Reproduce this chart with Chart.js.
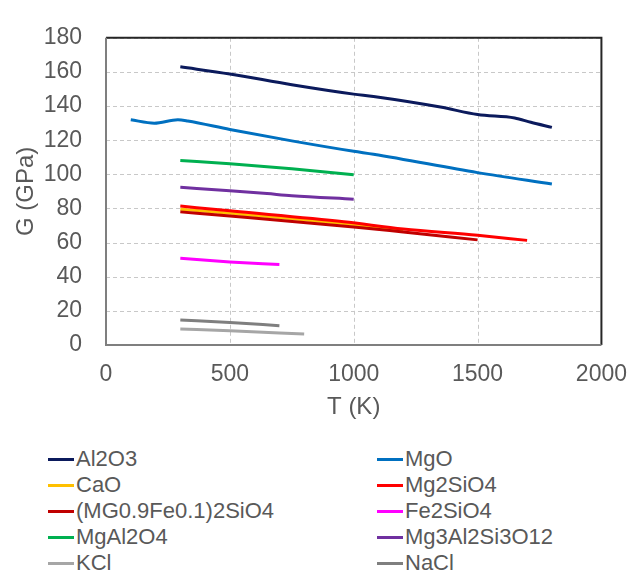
<!DOCTYPE html>
<html>
<head>
<meta charset="utf-8">
<script src="https://cdn.jsdelivr.net/npm/chart.js@4"></script>
<style>
    body { margin: 0; background: #fff; font-family: 'Liberation Sans', Arial, sans-serif; }
    #wrap { position: relative; width: 643px; height: 430px; }
    #legend { position: relative; width: 643px; height: 144px; }
    .item { position: absolute; display: flex; align-items: center; font-size: 22px; color: #595959; line-height: 26px; }
    .swatch { width: 26px; height: 3px; margin-right: 2px; }
</style>
</head>
<body>
<div id="wrap"><canvas id="lineChart"></canvas></div>
<div id="legend"></div>
<script>
// ===== DATA =====
const names = ['Al2O3', 'MgO', 'CaO', 'Mg2SiO4', '(MG0.9Fe0.1)2SiO4', 'Fe2SiO4', 'MgAl2O4', 'Mg3Al2Si3O12', 'KCl', 'NaCl'];
const colors = ['#0b1a5c', '#0070c0', '#ffc000', '#ff0000', '#c00000', '#ff00ff', '#00b050', '#7030a0', '#a6a6a6', '#7f7f7f'];

const al2o3T = [300, 500, 750, 1000, 1080, 1350, 1500, 1650, 1715, 1800];
const al2o3G = [163, 158.8, 152.5, 147, 145.6, 139.4, 135, 133, 130.5, 127.5];
const mgoT = [100, 195, 290, 330, 500, 750, 1000, 1080, 1500, 1800];
const mgoG = [132, 130, 132, 131.3, 126.3, 119.6, 113.5, 111.8, 101, 94.3];
const caoT = [300, 500, 1000, 1200];
const caoG = [79.6, 77.2, 70.6, 67.4];
const mg2sio4T = [300, 500, 960, 1200, 1500, 1700];
const mg2sio4G = [81.4, 78.6, 72.2, 68, 64.3, 61.3];
const mgfeT = [300, 500, 1000, 1200, 1500];
const mgfeG = [78, 75.6, 69.2, 66.2, 61.6];
const fe2sio4T = [300, 500, 700];
const fe2sio4G = [50.8, 48.7, 47.1];
const mgal2o4T = [300, 500, 750, 1000];
const mgal2o4G = [108.1, 106.2, 103.3, 99.8];
const pyropeT = [300, 500, 650, 750, 1000];
const pyropeG = [92.4, 90.4, 88.7, 87.5, 85.4];
const kclT = [300, 500, 800];
const kclG = [9.4, 8.3, 6.4];
const naclT = [300, 500, 700];
const naclG = [14.7, 13.2, 11.3];

const seriesT = [al2o3T, mgoT, caoT, mg2sio4T, mgfeT, fe2sio4T, mgal2o4T, pyropeT, kclT, naclT];
const seriesG = [al2o3G, mgoG, caoG, mg2sio4G, mgfeG, fe2sio4G, mgal2o4G, pyropeG, kclG, naclG];

const xTicks = [0, 500, 1000, 1500, 2000];
const yTicks = [0, 20, 40, 60, 80, 100, 120, 140, 160, 180];

// ===== GRID (dashed) + FRAME =====
const dashedGrid = {
    id: 'dashedGrid',
    beforeDatasetsDraw(chart) {
        const { ctx, chartArea: a, scales } = chart;
        ctx.save();
        ctx.strokeStyle = '#c8c8c8';
        ctx.lineWidth = 1;
        ctx.setLineDash([4, 3]);
        xTicks.forEach(function (v) {
            const px = Math.round(scales.x.getPixelForValue(v)) + 0.5;
            ctx.beginPath();
            ctx.moveTo(px, a.top);
            ctx.lineTo(px, a.bottom);
            ctx.stroke();
        });
        yTicks.forEach(function (v) {
            const py = Math.round(scales.y.getPixelForValue(v)) + 0.5;
            ctx.beginPath();
            ctx.moveTo(a.left, py);
            ctx.lineTo(a.right, py);
            ctx.stroke();
        });
        ctx.restore();
    },
    afterDraw(chart) {
        const { ctx, chartArea: a } = chart;
        ctx.save();
        ctx.lineWidth = 2;
        ctx.setLineDash([]);
        ctx.strokeStyle = '#262626';
        ctx.beginPath();
        ctx.moveTo(a.left, a.top);
        ctx.lineTo(a.right, a.top);
        ctx.lineTo(a.right, a.bottom);
        ctx.stroke();
        ctx.strokeStyle = '#7f7f7f';
        ctx.beginPath();
        ctx.moveTo(a.left, a.top);
        ctx.lineTo(a.left, a.bottom);
        ctx.lineTo(a.right, a.bottom);
        ctx.stroke();
        ctx.restore();
    }
};

// ===== CHART =====
const datasets = names.map(function (name, i) {
    return {
        label: name,
        data: seriesT[i].map(function (t, j) { return { x: t, y: seriesG[i][j] }; }),
        borderColor: colors[i],
        backgroundColor: colors[i],
        borderWidth: 3,
        pointRadius: 0,
        cubicInterpolationMode: 'monotone',
        fill: false,
        order: names.length - i
    };
});

const tickFont = { family: "'Liberation Sans', Arial, sans-serif", size: 23 };
const plainLabel = function (value) { return String(value); };

new Chart(document.getElementById('lineChart'), {
    type: 'line',
    data: { datasets: datasets },
    options: {
        responsive: true,
        maintainAspectRatio: false,
        animation: false,
        layout: { padding: { top: 18, right: 31, left: 0, bottom: 0 } },
        plugins: {
            legend: { display: false },
            tooltip: { enabled: false }
        },
        scales: {
            x: {
                type: 'linear',
                min: xTicks[0],
                max: xTicks[xTicks.length - 1],
                afterBuildTicks: function (scale) { scale.ticks = xTicks.map(function (v) { return { value: v }; }); },
                afterFit: function (scale) { scale.height = 85; },
                grid: { display: false, drawTicks: false },
                border: { display: false },
                ticks: { color: '#595959', font: tickFont, padding: 16, maxRotation: 0, callback: plainLabel },
                title: { display: true, text: 'T (K)', color: '#595959', font: { family: tickFont.family, size: 24 }, padding: { top: 0, bottom: 8 } }
            },
            y: {
                min: yTicks[0],
                max: yTicks[yTicks.length - 1],
                afterBuildTicks: function (scale) { scale.ticks = yTicks.map(function (v) { return { value: v }; }); },
                afterFit: function (scale) { scale.width = 106; },
                grid: { display: false, drawTicks: false },
                border: { display: false },
                ticks: { color: '#595959', font: tickFont, padding: 24, callback: plainLabel },
                title: { display: true, text: 'G (GPa)', color: '#595959', font: { family: tickFont.family, size: 24 }, padding: { top: 12, bottom: 0 } }
            }
        }
    },
    plugins: [dashedGrid]
});

// ===== LEGEND (two columns) =====
const legendEl = document.getElementById('legend');
names.forEach(function (name, i) {
    const col = i % 2;
    const row = Math.floor(i / 2);
    const item = document.createElement('div');
    item.className = 'item';
    item.style.left = (col === 0 ? 48 : 377) + 'px';
    item.style.top = (16 + row * 26) + 'px';
    const sw = document.createElement('span');
    sw.className = 'swatch';
    sw.style.background = colors[i];
    const txt = document.createElement('span');
    txt.textContent = name;
    item.appendChild(sw);
    item.appendChild(txt);
    legendEl.appendChild(item);
});
</script>
</body>
</html>
